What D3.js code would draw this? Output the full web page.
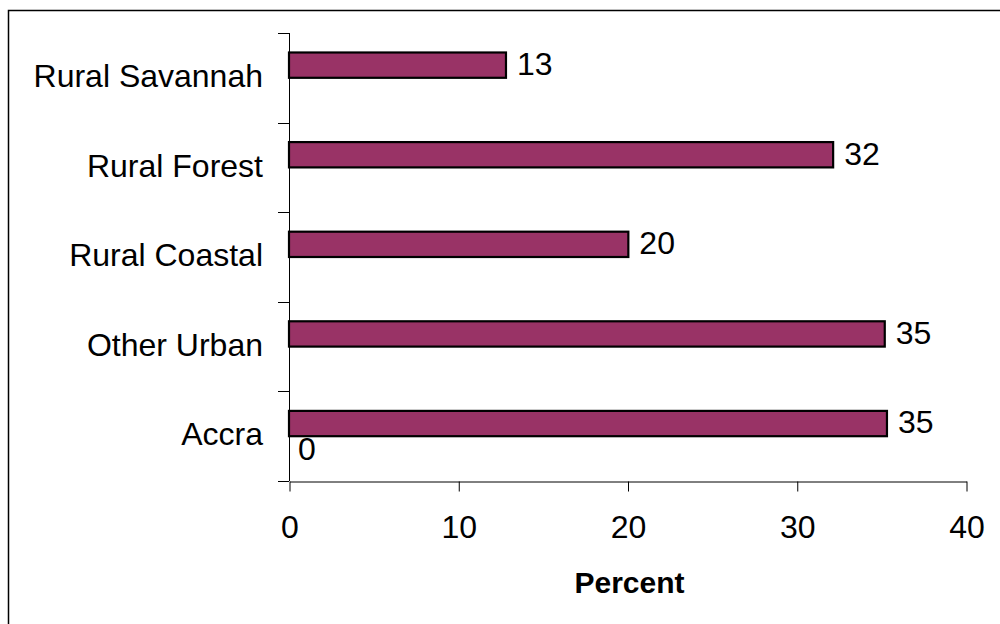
<!DOCTYPE html>
<html>
<head>
<meta charset="utf-8">
<script src="https://cdn.jsdelivr.net/npm/d3@7"></script>
<style>
  html, body { margin: 0; padding: 0; background: #fff; }
  svg { display: block; font-family: "Liberation Sans", Arial, sans-serif; }
</style>
</head>
<body>
<svg id="chart" width="1000" height="624"></svg>
<script>
// Data
const categories = ["Accra", "Other Urban", "Rural Coastal", "Rural Forest", "Rural Savannah"];
const seriesNames = ["Percent", "Zero"];
const percentValues = [35.33, 35.2, 20.05, 32.15, 12.82];
const percentLabels = ["35", "35", "20", "32", "13"];
const zeroValues = [0, null, null, null, null];
const zeroLabels = ["0", null, null, null, null];
const xTicks = [0, 10, 20, 30, 40];
const xTitle = "Percent";

const svg = d3.select("#chart");

// Outer border (cropped on right/bottom)
svg.append("rect")
  .attr("x", 8.5).attr("y", 10.5)
  .attr("width", 1000).attr("height", 700)
  .attr("fill", "#fff").attr("stroke", "#000").attr("stroke-width", 1.5);

const x = d3.scaleLinear().domain([0, 40]).range([289, 966]);
const y = d3.scaleBand().domain(categories).range([481, 33]).paddingInner(0).paddingOuter(0);
const ys = d3.scaleBand().domain(seriesNames).range([0, y.bandwidth()]).paddingInner(0).paddingOuter(0.77);

const barColor = "#993366";
const fontSize = 32;

// Bars
const g = svg.append("g");
g.selectAll("rect.bar")
  .data(categories.map((c, i) => ({ c, v: percentValues[i], l: percentLabels[i] })))
  .join("rect")
  .attr("class", "bar")
  .attr("x", x(0))
  .attr("y", d => y(d.c) + ys("Percent"))
  .attr("width", d => x(d.v) - x(0))
  .attr("height", ys.bandwidth())
  .attr("fill", barColor)
  .attr("stroke", "#000")
  .attr("stroke-width", 2.2);

// Value labels
g.selectAll("text.vl")
  .data(categories.map((c, i) => ({ c, v: percentValues[i], l: percentLabels[i] })))
  .join("text")
  .attr("class", "vl")
  .attr("x", d => x(d.v) + 11)
  .attr("y", d => y(d.c) + ys("Percent") + ys.bandwidth() / 2)
  .attr("dy", "0.31em")
  .attr("font-size", fontSize)
  .attr("fill", "#000")
  .text(d => d.l);

// Zero series labels
g.selectAll("text.zl")
  .data(categories.map((c, i) => ({ c, v: zeroValues[i], l: zeroLabels[i] })).filter(d => d.v !== null))
  .join("text")
  .attr("class", "zl")
  .attr("x", d => x(d.v) + 9)
  .attr("y", d => y(d.c) + ys("Zero") + ys.bandwidth() / 2)
  .attr("dy", "0.34em")
  .attr("font-size", fontSize)
  .attr("fill", "#000")
  .text(d => d.l);

// Y axis line and category ticks
const yEdges = categories.map(c => y(c)).concat([y(categories[0]) + y.bandwidth()]);
svg.append("line")
  .attr("x1", x(0) + 0.5).attr("x2", x(0) + 0.5)
  .attr("y1", d3.min(yEdges)).attr("y2", d3.max(yEdges))
  .attr("stroke", "#000").attr("stroke-width", 1);
svg.selectAll("line.ytick")
  .data(yEdges)
  .join("line")
  .attr("class", "ytick")
  .attr("x1", x(0) - 11).attr("x2", x(0))
  .attr("y1", d => Math.round(d) + 0.5).attr("y2", d => Math.round(d) + 0.5)
  .attr("stroke", "#000").attr("stroke-width", 1);

// Category labels
svg.selectAll("text.cat")
  .data(categories)
  .join("text")
  .attr("class", "cat")
  .attr("x", 263)
  .attr("y", c => y(c) + y.bandwidth() / 2 - 1)
  .attr("dy", "0.32em")
  .attr("text-anchor", "end")
  .attr("font-size", fontSize)
  .attr("fill", "#000")
  .text(c => c);

// X axis
const xAxis = svg.append("g")
  .attr("transform", `translate(0.5, ${Math.round(y.range()[0]) + 0.5})`)
  .call(d3.axisBottom(x).tickValues(xTicks).tickSize(10).tickSizeOuter(0).tickPadding(24).tickFormat(d3.format("d")));
xAxis.select(".domain").attr("stroke", "#000").attr("stroke-width", 1);
xAxis.selectAll(".tick line").attr("stroke", "#000");
xAxis.selectAll(".tick text")
  .attr("font-size", fontSize)
  .attr("font-family", "'Liberation Sans', Arial, sans-serif")
  .attr("fill", "#000");

// X title
svg.append("text")
  .attr("x", (x.range()[0] + x.range()[1]) / 2 + 2)
  .attr("y", 593)
  .attr("text-anchor", "middle")
  .attr("font-size", 30)
  .attr("font-weight", "bold")
  .attr("fill", "#000")
  .text(xTitle);
</script>
</body>
</html>
